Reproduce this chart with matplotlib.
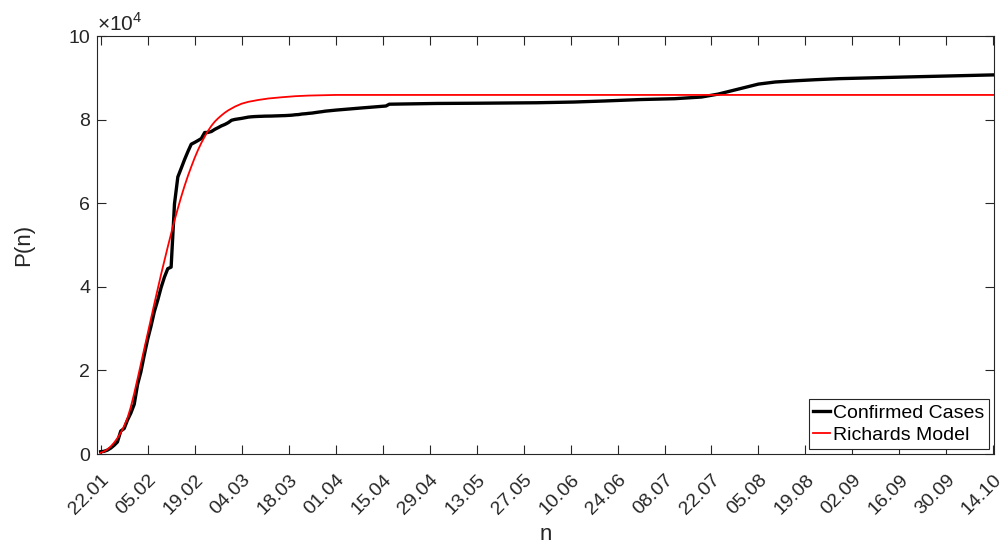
import matplotlib
matplotlib.use("Agg")
import matplotlib.pyplot as plt
from matplotlib.ticker import FixedLocator, FuncFormatter
from matplotlib.transforms import ScaledTranslation

plt.rcParams['font.family'] = ['Liberation Sans', 'DejaVu Sans']
plt.rcParams['mathtext.fontset'] = 'custom'
plt.rcParams['mathtext.rm'] = 'Liberation Sans'

# ---- data ----
# day index (0 = 22.01) and cumulative confirmed cases
case_days = list(range(0, 70)) + [70, 78, 85, 86, 100, 113, 130, 141, 150, 161, 171,
                                  179, 184, 188, 192, 196, 201, 206, 213, 220, 230,
                                  240, 253, 266]
case_vals = [548, 643, 920, 1406, 2075, 2877, 5509, 6087, 8141, 9802,
             11891, 16630, 19716, 23707, 27440, 30587, 34110, 36814, 39829, 42354,
             44386, 44759, 59895, 66358, 68413, 70513, 72434, 74211, 74619, 75077,
             75550, 77001, 77022, 77241, 77754, 78166, 78600, 78928, 79356, 79932,
             80136, 80261, 80386, 80537, 80690, 80770, 80823, 80860, 80887, 80921,
             80932, 80945, 80977, 81003, 81033, 81058, 81102, 81156, 81250, 81305,
             81435, 81498, 81591, 81661, 81782, 81897, 81999, 82122, 82198, 82279,
             82361, 82900, 83350, 83780, 83960, 84020, 84130, 84300, 84550, 84900, 85100,
             85500, 86200, 87000, 87800, 88600, 89100, 89350, 89650, 89900, 90100,
             90300, 90550, 90800]

# Richards model curve
model_days = [0, 1, 2, 3, 4, 5, 6, 7, 8, 9, 10, 11, 12, 13, 14, 15, 16, 17, 18, 19,
              20, 21, 22, 23, 24, 25, 26, 27, 28, 29, 30, 31, 32, 33, 34, 35, 36, 37,
              38, 40, 42, 44, 47, 50, 54, 58, 62, 70, 266]
model_vals = [300, 600, 1100, 1800, 2700, 3800, 5100, 6700, 8600, 11300, 14500,
              18000, 21600, 25200, 28800, 32400, 36000, 39500, 43000, 46300, 49600,
              52800, 55900, 58800, 61600, 64200, 66600, 68800, 70900, 72800, 74500,
              76000, 77400, 78600, 79600, 80400, 81100, 81750, 82300, 83200, 83900,
              84350, 84800, 85150, 85450, 85700, 85850, 86000, 86000]

tick_days = list(range(0, 267, 14))
tick_labels = ['22.01', '05.02', '19.02', '04.03', '18.03', '01.04', '15.04', '29.04',
               '13.05', '27.05', '10.06', '24.06', '08.07', '22.07', '05.08', '19.08',
               '02.09', '16.09', '30.09', '14.10']
y_ticks = [0, 20000, 40000, 60000, 80000, 100000]

# ---- plot ----
gray = '#262626'
fig = plt.figure(figsize=(10.06, 5.43), dpi=100)
ax = fig.add_axes([0.0967, 0.1639, 0.8918, 0.7689])

ax.plot(case_days, case_vals, color='black', lw=2.4, label='Confirmed Cases', zorder=3)
ax.plot(model_days, model_vals, color='#ff0000', lw=1.3, label='Richards Model', zorder=4)

ax.set_xlim(-1, 266.3)
ax.set_ylim(0, 100000)

ax.xaxis.set_major_locator(FixedLocator(tick_days))
ax.set_xticklabels(tick_labels, rotation=45, ha='right', va='top', rotation_mode='anchor')
shift = ScaledTranslation(5 / 100, 0, fig.dpi_scale_trans)
for lab in ax.get_xticklabels():
    lab.set_transform(lab.get_transform() + shift)
ax.yaxis.set_major_locator(FixedLocator(y_ticks))
ax.yaxis.set_major_formatter(FuncFormatter(lambda v, p: f"{v / 1e4:g}"))

ax.tick_params(direction='in', length=6.5, width=0.8, top=True, right=True,
               labelsize=14, colors=gray)
ax.tick_params(axis='x', pad=12.5)
ax.tick_params(axis='y', pad=5)
for s in ax.spines.values():
    s.set_color(gray)
    s.set_linewidth(0.8)

ax.text(0.0, 1.003, r'$\times$10$^{4}$', transform=ax.transAxes, fontsize=15,
        color=gray, ha='left', va='bottom')

ax.set_xlabel('n', fontsize=16, color=gray, labelpad=4)
ax.set_ylabel('P(n)', fontsize=16, color=gray, labelpad=25)

leg = ax.legend(loc='lower right', fontsize=14, frameon=True, fancybox=False,
                edgecolor=gray, framealpha=1, borderpad=0.25, labelspacing=0.22,
                handlelength=0.85, handletextpad=0.15, borderaxespad=0.28)
leg.get_frame().set_linewidth(0.8)

fig.savefig('out.png', dpi=100)
